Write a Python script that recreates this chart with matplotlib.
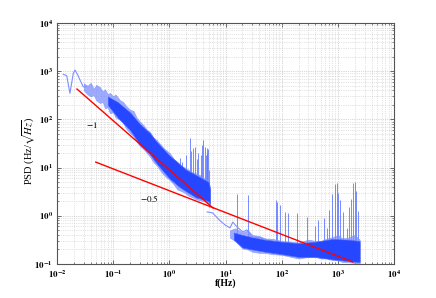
import numpy as np
import matplotlib
matplotlib.use("Agg")
import matplotlib.pyplot as plt
from matplotlib.ticker import FixedLocator, NullFormatter

plt.rcParams['font.family'] = ['Liberation Serif', 'DejaVu Serif']
plt.rcParams['mathtext.fontset'] = 'stix'

# ---- data ----
# low-frequency single trace
lf_f = [0.0129, 0.0149, 0.0170, 0.0195, 0.0209, 0.0234, 0.0257, 0.0293, 0.033]
lf_v = [863, 807, 348, 904, 1059, 834, 656, 476, 470]

# noisy band 0.03 - 5.3 Hz: outer envelope
b1_f = [0.03, 0.035, 0.04, 0.045, 0.05, 0.058, 0.065, 0.072, 0.08, 0.0875, 0.1, 0.11,
        0.132, 0.15, 0.17, 0.2, 0.23, 0.26, 0.3, 0.35, 0.4, 0.45, 0.52, 0.6, 0.7, 0.8,
        1.02, 1.2, 1.4, 1.6, 1.89, 2.2, 2.6, 3.0, 3.5, 4.2, 4.9, 5.3]
b1_hi = [560, 500, 575, 430, 520, 468, 380, 420, 330, 355, 300, 330,
         251, 230, 190, 158, 150, 110, 90, 75, 60, 56, 42, 37, 30, 25,
         20, 15, 13, 11, 10, 9, 8, 7.5, 7, 6, 5.5, 4]
b1_lo = [400, 330, 300, 320, 250, 219, 230, 170, 180, 135, 140, 110,
         98, 85, 65, 52, 45, 35, 28, 24, 20, 17, 13, 11, 8.5, 7,
         5.5, 4.5, 3.5, 3.3, 3, 2.6, 2.4, 2.2, 2.1, 2.0, 1.9, 1.6]
# dense core of that band
c1_f = [0.08, 0.12, 0.2, 0.3, 0.45, 0.6, 1.0, 1.5, 2.0, 3.0, 4.0, 5.0, 5.3]
c1_hi = [300, 230, 140, 80, 52, 34, 18, 12, 9, 7, 5.8, 5, 3.5]
c1_lo = [200, 110, 60, 30, 19, 12, 6, 4, 3.2, 2.4, 2.2, 2.0, 1.8]

# single trace 4.7 - 53 Hz
mid_f = [4.7, 5.9, 7.9, 9.8, 12, 13.5, 16, 20.4, 24, 30, 41, 53]
mid_v = [1.2, 1.15, 0.8, 0.65, 0.56, 0.74, 0.59, 0.46, 0.51, 0.36, 0.35, 0.32]

# noisy band 12 - 2450 Hz: outer envelope
b2_f = [12, 15, 20, 25, 30, 40, 50, 70, 100, 150, 200, 300, 400, 500, 650, 800,
        1000, 1200, 1500, 2000, 2450]
b2_hi = [0.5, 0.55, 0.45, 0.5, 0.4, 0.38, 0.34, 0.33, 0.3, 0.29, 0.28, 0.32, 0.3,
         0.3, 0.34, 0.36, 0.4, 0.34, 0.35, 0.4, 0.32]
b2_lo = [0.35, 0.3, 0.21, 0.2, 0.18, 0.17, 0.17, 0.16, 0.155, 0.14, 0.13, 0.14,
         0.14, 0.13, 0.13, 0.12, 0.12, 0.11, 0.11, 0.105, 0.1]
# dense core of that band
c2_f = [14, 20, 30, 50, 100, 200, 400, 800, 1500, 2450]
c2_hi = [0.45, 0.4, 0.36, 0.32, 0.29, 0.27, 0.29, 0.33, 0.32, 0.3]
c2_lo = [0.32, 0.22, 0.2, 0.18, 0.16, 0.14, 0.14, 0.125, 0.115, 0.11]

# narrow spectral spikes: frequency, bottom, top
spk_f = [1.55, 1.7, 2.0, 2.3, 2.45, 2.6, 2.9, 3.1, 3.3, 3.6, 3.8, 4.0, 4.3, 4.45, 4.6,
         4.75, 4.9, 5.1,
         16, 25, 78, 84, 92, 115, 130, 190, 280, 390, 450, 560, 630, 700,
         780, 880, 950, 1020, 1100, 1250, 1450, 1600, 1750, 1900, 2000, 2100, 2250]
spk_lo = [6, 5, 4.5, 5, 4, 4, 3, 3, 3, 2.8, 2.6, 2.5, 2.2, 2.2, 2.2,
          2.1, 2, 1.5,
          0.4, 0.3, 0.2, 0.2, 0.2, 0.18, 0.18, 0.15, 0.15, 0.15, 0.15, 0.15, 0.15, 0.15,
          0.15, 0.14, 0.14, 0.14, 0.13, 0.12, 0.12, 0.12, 0.11, 0.11, 0.11, 0.11, 0.11]
spk_hi = [16, 13, 18, 41, 22, 25, 27, 15, 20, 18, 30, 37, 27, 18, 25,
          20, 24, 9,
          2.9, 2.7, 2.1, 1.9, 1.65, 1.2, 1.15, 1.15, 0.95, 0.6, 0.8, 0.9, 0.56, 1.3,
          2.9, 4.5, 4.8, 3.0, 2.1, 1.2, 0.56, 1.5, 2.2, 4.8, 5.0, 3.2, 1.26]

# fitted slopes
fit1_f = [0.0227, 6.0]
fit1_v = [427, 1.45]
fit2_f = [0.049, 1850]
fit2_v = [13, 0.11]

# ---- figure ----
W, H = 436, 298
fig = plt.figure(figsize=(W / 100, H / 100), dpi=100)
ax = fig.add_axes([57 / W, (H - 264) / H, 337 / W, 241 / H])
ax.set_xscale('log')
ax.set_yscale('log')
ax.set_xlim(1e-2, 1e4)
ax.set_ylim(1e-1, 1e4)

core_c = '#2447ff'
light_c = '#7d8fff'
spike_c = '#5f76ff'

ax.vlines(spk_f, spk_lo, spk_hi, color=spike_c, lw=0.7, alpha=0.85, zorder=1.6)
ax.fill_between(b1_f, b1_lo, b1_hi, color=light_c, alpha=0.75, lw=0.5, zorder=1.8)
ax.fill_between(b2_f, b2_lo, b2_hi, color=light_c, alpha=0.75, lw=0.5, zorder=1.8)
ax.fill_between(c1_f, c1_lo, c1_hi, color=core_c, lw=0.4, edgecolor='#4a66ff', zorder=1.9)
ax.fill_between(c2_f, c2_lo, c2_hi, color=core_c, lw=0.4, edgecolor='#4a66ff', zorder=1.9)
ax.plot(lf_f, lf_v, color=light_c, lw=0.8, zorder=2)
ax.plot(mid_f, mid_v, color=light_c, lw=0.8, zorder=2)

ax.plot(fit1_f, fit1_v, color='#ff0000', lw=1.0, zorder=3)
ax.plot(fit2_f, fit2_v, color='#ff0000', lw=1.0, zorder=3)

ax.text(0.042, 77, '$-1$', fontsize=6.5, fontweight='bold', ha='center', va='center', zorder=4)
ax.text(0.45, 2.34, '$-0.5$', fontsize=6.5, fontweight='bold', ha='center', va='center', zorder=4)

ax.grid(True, which='major', linestyle=':', color='#b0b0b0', lw=0.5)
ax.grid(True, which='minor', linestyle=':', color='#c8c8c8', lw=0.5)
ax.set_axisbelow(True)

xmaj = [1e-2, 1e-1, 1e0, 1e1, 1e2, 1e3, 1e4]
ymaj = [1e-1, 1e0, 1e1, 1e2, 1e3, 1e4]
ax.set_xticks(xmaj)
ax.set_yticks(ymaj)
ax.set_xticklabels([r'$\mathbf{10^{%d}}$' % int(np.log10(v)) for v in xmaj])
ax.set_yticklabels([r'$\mathbf{10^{%d}}$' % int(np.log10(v)) for v in ymaj])
xmin = [m * 10.0 ** e for e in range(-2, 4) for m in range(2, 10)]
ymin = [m * 10.0 ** e for e in range(-1, 4) for m in range(2, 10)]
ax.xaxis.set_minor_locator(FixedLocator(xmin))
ax.yaxis.set_minor_locator(FixedLocator(ymin))
ax.xaxis.set_minor_formatter(NullFormatter())
ax.yaxis.set_minor_formatter(NullFormatter())

ax.tick_params(which='both', direction='in', top=True, right=True, color='#555555')
ax.tick_params(which='major', length=3, width=0.6, labelsize=6.5, pad=3)
ax.tick_params(which='minor', length=1.5, width=0.5)
for s in ax.spines.values():
    s.set_color('#555555')
    s.set_linewidth(0.8)

ax.set_xlabel('f(Hz)', fontsize=7, fontweight='bold', labelpad=-1)
ax.set_ylabel(r'PSD (Hz/$\sqrt{Hz}$)', fontsize=7.5)
ax.yaxis.set_label_coords(-(57 - 37) / 337, 0.47)

fig.savefig('out.png', dpi=100)
